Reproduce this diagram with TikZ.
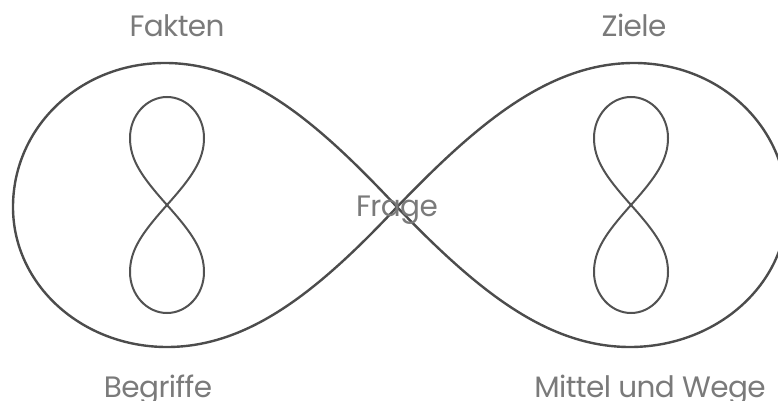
\documentclass[tikz,border=0pt]{standalone}
\usepackage{fontspec}
\setmainfont{Poppins}
\begin{document}
\begin{tikzpicture}[x=1pt,y=-1pt,
  bigline/.style={draw=black!70, line width=2.4pt},
  smallline/.style={draw=black!68, line width=2pt},
  lbl/.style={anchor=base, text=black!52, font=\fontsize{29.5}{34}\selectfont\addfontfeature{LetterSpace=-2}, inner sep=0pt}]
\useasboundingbox (0,0) rectangle (778,401);
% big infinity
\coordinate (C) at (397,207);
\draw[bigline] (C) .. controls (320,125) and (250,63) .. (165,63)
  .. controls (80,63) and (13,127) .. (13,207)
  .. controls (13,285) and (82,347) .. (167,347)
  .. controls (250,347) and (320,289) .. (C)
  .. controls (476,125) and (548,63) .. (634,63)
  .. controls (720,63) and (787,127) .. (787,207)
  .. controls (787,285) and (716,347) .. (630,347)
  .. controls (546,347) and (476,289) .. (C);
% small eights
\foreach \cx/\nm in {167/L, 631/R}{
  \coordinate (X\nm) at (\cx,205);
  \draw[smallline] (X\nm) .. controls ({\cx-25},177) and ({\cx-37},160) .. ({\cx-37},138)
    .. controls ({\cx-37},115) and ({\cx-20},97) .. (\cx,97)
    .. controls ({\cx+20},97) and ({\cx+37},115) .. ({\cx+37},138)
    .. controls ({\cx+37},160) and ({\cx+25},177) .. (X\nm)
    .. controls ({\cx-25},233) and ({\cx-37},250) .. ({\cx-37},272)
    .. controls ({\cx-37},295) and ({\cx-20},313) .. (\cx,313)
    .. controls ({\cx+20},313) and ({\cx+37},295) .. ({\cx+37},272)
    .. controls ({\cx+37},250) and ({\cx+25},233) .. (X\nm);
}
\node[lbl] (fakten) at (177,37) {Fakten};
\node[lbl] (ziele) at (634,37) {Ziele};
\node[lbl] (begriffe) at (158,397) {Begriffe};
\node[lbl] (mittel) at (650,397) {Mittel und Wege};
\node[lbl] (frage) at (397,216) {Frage};
\end{tikzpicture}
\end{document}
